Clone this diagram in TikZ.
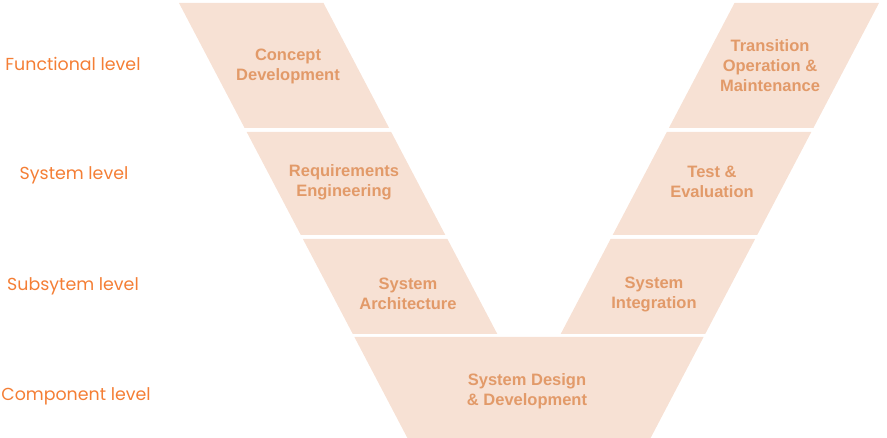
\documentclass[tikz,border=0pt]{standalone}
\usepackage{fontspec}
\usepackage{xcolor}
\usepackage{tikz}
\setmainfont{Liberation Sans}
\newfontfamily\levelfont{Poppins}
\definecolor{bandfill}{HTML}{F7E1D4}
\definecolor{bandtext}{HTML}{E29A69}
\definecolor{levelorange}{HTML}{F47E35}

\begin{document}
\begin{tikzpicture}[
  x=1pt, y=-1pt,
  band/.style ={fill=bandfill, draw=none},
  btxt/.style ={text=bandtext, font=\fontsize{16.5}{20}\selectfont\bfseries,
                align=center, inner sep=0pt},
  lvl/.style  ={text=levelorange, font=\levelfont\fontsize{17.4}{19}\selectfont,
                inner sep=0pt}
]
\useasboundingbox (0,0) rectangle (887,438);

% =============== left arm ===============
\fill[band] (179,3)     -- (323.5,3)   -- (389.1,128) -- (244.6,128) -- cycle;
\fill[band] (246.7,132) -- (391.2,132) -- (445.3,235) -- (300.8,235) -- cycle;
\fill[band] (302.9,239) -- (447.4,239) -- (497.3,334) -- (352.8,334) -- cycle;

% =============== bottom ===============
\fill[band] (354.4,337) -- (703.6,337) -- (650.6,438) -- (407.4,438) -- cycle;

% =============== right arm ===============
\fill[band] (734.5,3)   -- (879,3)     -- (813.4,128) -- (668.9,128) -- cycle;
\fill[band] (666.8,132) -- (811.3,132) -- (757.2,235) -- (612.7,235) -- cycle;
\fill[band] (610.6,239) -- (755.1,239) -- (705.2,334) -- (560.7,334) -- cycle;

% stage names
\node[btxt] (concept)   at (288,66)  {Concept\\Development};
\node[btxt] (reqeng)    at (344,182) {Requirements\\Engineering};
\node[btxt] (sysarch)   at (408,294) {System\\Architecture};
\node[btxt] (sysdesign) at (527,391) {System Design\\\& Development};
\node[btxt] (sysint)    at (654,294) {System\\Integration};
\node[btxt] (testeval)  at (712,182) {Test \&\\Evaluation};
\node[btxt] (transop)   at (770,66)  {Transition\\Operation \&\\Maintenance};

% =============== levels ===============
\node[lvl] (lvfunc) at (73,64)  {Functional level};
\node[lvl] (lvsys)  at (74,175) {System level};
\node[lvl] (lvsub)  at (73,286) {Subsytem level};
\node[lvl] (lvcomp) at (76,396) {Component level};
\end{tikzpicture}
\end{document}
